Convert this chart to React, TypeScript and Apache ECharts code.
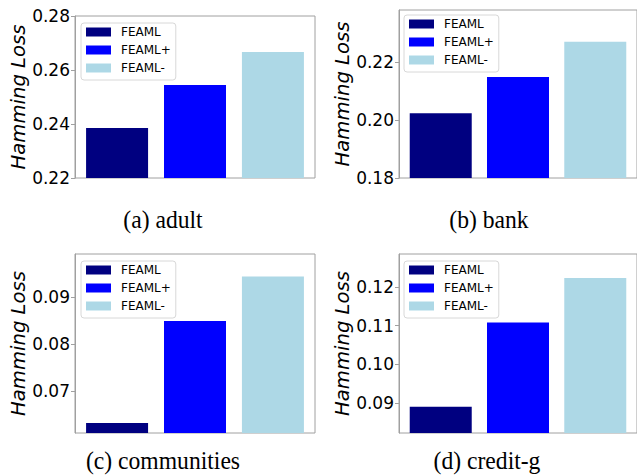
import React, { useEffect, useRef } from "react";
import * as echarts from "echarts";

const methods = ["FEAML", "FEAML+", "FEAML-"];
const colors = ["#000080", "#0000ff", "#add8e6"];
const positions = [0, 1, 2];

const datasets = ["adult", "bank", "communities", "credit-g"];
const captions = ["(a) adult", "(b) bank", "(c) communities", "(d) credit-g"];

const adultValues = [0.2385, 0.2544, 0.2667];
const bankValues = [0.2023, 0.2148, 0.227];
const communitiesValues = [0.0632, 0.0849, 0.0943];
const creditValues = [0.089, 0.1108, 0.1223];

const adultTicks = [0.22, 0.24, 0.26, 0.28];
const bankTicks = [0.18, 0.2, 0.22];
const communitiesTicks = [0.07, 0.08, 0.09];
const creditTicks = [0.09, 0.1, 0.11, 0.12];

const adultRange = [0.22, 0.28];
const bankRange = [0.18, 0.2379];
const communitiesRange = [0.0611, 0.0991];
const creditRange = [0.0822, 0.1285];

const allValues = [adultValues, bankValues, communitiesValues, creditValues];
const allTicks = [adultTicks, bankTicks, communitiesTicks, creditTicks];
const allRanges = [adultRange, bankRange, communitiesRange, creditRange];

// panel layout
const panels = [
  { left: 75, top: 16, height: 162, gap: 40, capX: 163, capY: 219, legX: 81, legY: 23 },
  { left: 399, top: 10, height: 168, gap: 42, capX: 489, capY: 219, legX: 404, legY: 15 },
  { left: 75, top: 254, height: 179, gap: 40, capX: 163, capY: 460, legX: 81, legY: 261 },
  { left: 399, top: 254, height: 179, gap: 42, capX: 487, capY: 460, legX: 404, legY: 261 },
];

const FRAME = "#a0a0a0";

export default function App() {
  const ref = useRef<HTMLDivElement>(null);
  useEffect(() => {
    if (!ref.current) return;
    const chart = echarts.init(ref.current, null, { renderer: "svg" });

    const grid = panels.map((p) => ({
      left: p.left,
      top: p.top,
      width: 240,
      height: p.height,
      show: true,
      borderColor: FRAME,
      borderWidth: 1,
      backgroundColor: "transparent",
      containLabel: false,
    }));

    const xAxis = panels.map((_, i) => ({
      type: "value",
      gridIndex: i,
      min: -0.54,
      max: 2.54,
      show: false,
    }));

    const yAxis = panels.map((p, i) => ({
      type: "value",
      gridIndex: i,
      min: allRanges[i][0],
      max: allRanges[i][1],
      name: "Hamming Loss",
      nameLocation: "middle",
      nameRotate: 90,
      nameGap: p.gap,
      nameTextStyle: {
        fontFamily: "DejaVu Sans",
        fontStyle: "italic",
        fontSize: 19.6,
        color: "#000",
      },
      axisLine: { show: true, onZero: false, lineStyle: { color: FRAME, width: 1 } },
      axisTick: {
        show: true,
        length: 4,
        inside: false,
        customValues: allTicks[i],
        lineStyle: { color: FRAME, width: 1 },
      },
      axisLabel: {
        show: true,
        margin: 5,
        customValues: allTicks[i],
        formatter: (v: number) => v.toFixed(2),
        fontFamily: "DejaVu Sans",
        fontSize: 17,
        color: "#000",
      },
      splitLine: { show: false },
    }));

    const series: any[] = [];
    allValues.forEach((vals, gi) => {
      methods.forEach((m, mi) => {
        series.push({
          type: "bar",
          name: m,
          xAxisIndex: gi,
          yAxisIndex: gi,
          data: [[positions[mi], vals[mi]]],
          barWidth: 62,
          barGap: "-100%",
          itemStyle: { color: colors[mi] },
          emphasis: { disabled: true },
        });
      });
    });

    const legend = panels.map((p) => ({
      data: methods,
      orient: "vertical",
      left: p.legX,
      top: p.legY,
      itemWidth: 25,
      itemHeight: 9,
      itemGap: 6,
      icon: "rect",
      padding: [3, 5, 6, 5],
      backgroundColor: "rgba(255,255,255,0.8)",
      borderColor: "#d8d8d8",
      borderWidth: 1,
      borderRadius: 3,
      selectedMode: false,
      textStyle: {
        fontFamily: "DejaVu Sans",
        fontSize: 12,
        color: "#000",
        padding: [0, 0, 0, 5],
      },
    }));

    const graphic = panels.map((p, i) => ({
      type: "text",
      x: p.capX,
      y: p.capY,
      scaleX: 0.945,
      style: {
        text: captions[i],
        textAlign: "center",
        textVerticalAlign: "middle",
        fontFamily: "Liberation Serif",
        fontSize: 25,
        fill: "#000",
      },
    }));

    chart.setOption({
      animation: false,
      grid,
      xAxis,
      yAxis,
      legend,
      series,
      graphic,
    } as any);

    return () => chart.dispose();
  }, []);

  return (
    <div
      ref={ref}
      data-datasets={datasets.join(",")}
      style={{ position: "fixed", left: 0, top: 0, width: 637, height: 475, background: "#fff" }}
    />
  );
}
